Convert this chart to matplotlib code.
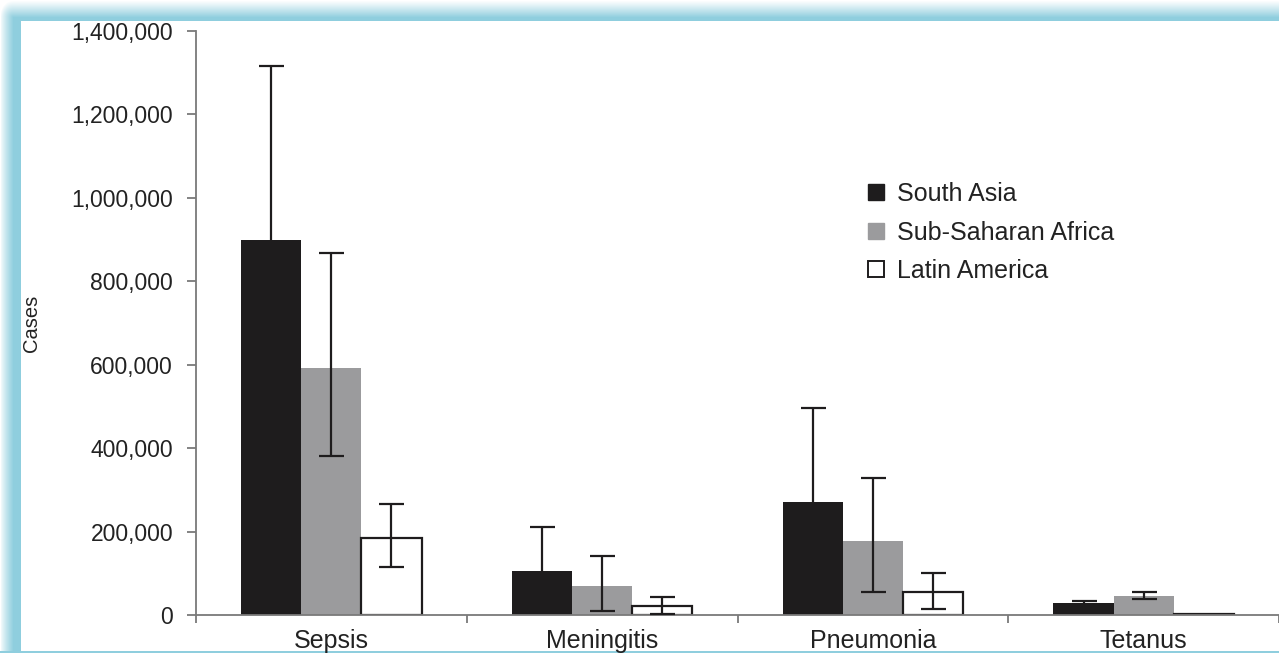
import numpy as np
import matplotlib.pyplot as plt
from matplotlib.patches import Patch
from matplotlib.ticker import FuncFormatter

plt.rcParams['font.family'] = ['Liberation Sans', 'DejaVu Sans']

diseases = ['Sepsis', 'Meningitis', 'Pneumonia', 'Tetanus']
regions = ['South Asia', 'Sub-Saharan Africa', 'Latin America']

# estimated cases and uncertainty range per region
south_asia = [900000, 105000, 271000, 29000]
south_asia_low = [620000, 50000, 150000, 24000]
south_asia_high = [1315000, 211000, 496000, 34000]

ss_africa = [592000, 70000, 178000, 45000]
ss_africa_low = [380000, 10000, 55000, 38000]
ss_africa_high = [867000, 141000, 329000, 55000]

latin_america = [185000, 21000, 55000, 2000]
latin_america_low = [116000, 3000, 15000, np.nan]
latin_america_high = [266000, 43000, 101000, np.nan]

W, H = 1279, 653
fig = plt.figure(figsize=(W / 100, H / 100), dpi=100, facecolor='white')

# light blue glowing frame on the left/top edges
frame = fig.add_axes([0, 0, 1, 1], zorder=-10)
yy, xx = np.mgrid[0:H, 0:W]
rx = np.clip(xx / 13.0, 0, 1) ** 0.8
ry = np.clip(yy / 17.0, 0, 1) ** 1.1
alpha = np.zeros((H, W))
left = (xx < 21) & (yy >= 21)
top = (yy < 21) & (xx >= 21)
corner = (xx < 21) & (yy < 21)
alpha[left] = rx[left]
alpha[top] = ry[top]
alpha[corner] = np.clip(1 - np.sqrt((1 - rx[corner]) ** 2 + (1 - ry[corner]) ** 2), 0, 1)
alpha[H - 2:H, :] = 1
rgba = np.zeros((H, W, 4))
rgba[..., 0] = 143 / 255
rgba[..., 1] = 206 / 255
rgba[..., 2] = 222 / 255
rgba[..., 3] = alpha
frame.imshow(rgba, aspect='auto', interpolation='nearest')
frame.set_axis_off()

ax = fig.add_axes([196 / W, 38 / H, (W - 196) / W, 584 / H])
ax.set_facecolor('none')

x = np.arange(len(diseases))
w = 0.222
dark = '#1e1c1d'
gray = '#9b9b9d'
ecol = dark

def err(vals, low, high):
    vals = np.array(vals, dtype=float)
    return [vals - np.array(low, dtype=float), np.array(high, dtype=float) - vals]

ax.bar(x - w, south_asia, w, color=dark, zorder=2)
ax.bar(x, ss_africa, w, color=gray, zorder=2)
ax.bar(x + w, latin_america, w, color='white', edgecolor=dark, linewidth=1.6, zorder=2)

for xs, vals, lo, hi in [(x - w, south_asia, south_asia_low, south_asia_high),
                         (x, ss_africa, ss_africa_low, ss_africa_high),
                         (x + w, latin_america, latin_america_low, latin_america_high)]:
    ax.errorbar(xs, vals, yerr=err(vals, lo, hi), fmt='none', ecolor=ecol,
                elinewidth=1.6, capsize=9, capthick=1.6, zorder=3)

ax.set_xlim(-0.5, 3.5)
ax.set_ylim(0, 1400000)
ax.set_yticks(np.arange(0, 1400001, 200000))
ax.yaxis.set_major_formatter(FuncFormatter(lambda v, p: f'{v:,.0f}'))

for s in ['top', 'right']:
    ax.spines[s].set_visible(False)
for s in ['left', 'bottom']:
    ax.spines[s].set_color('#7a7a7a')
    ax.spines[s].set_linewidth(1.3)

ax.tick_params(axis='y', direction='out', length=6.5, width=1.3, color='#7a7a7a',
               labelsize=16.5, labelcolor='#222222', pad=10)
ax.set_xticks(x)
ax.set_xticklabels(diseases)
ax.set_xticks(np.arange(-0.5, 3.6, 1.0), minor=True)
ax.tick_params(axis='x', which='major', length=0, labelsize=18, labelcolor='#222222', pad=10)
ax.tick_params(axis='x', which='minor', direction='out', length=6, width=1.3, color='#7a7a7a')

fig.text(32 / W, 1 - 323 / H, 'Cases', rotation=90, ha='center', va='center',
         fontsize=14.5, color='#222222')

handles = [Patch(facecolor=dark, edgecolor=dark),
           Patch(facecolor=gray, edgecolor=gray),
           Patch(facecolor='white', edgecolor=dark, linewidth=1.4)]
ax.legend(handles, regions, loc='upper left', bbox_to_anchor=(868 / W, 1 - 182 / H),
          bbox_transform=fig.transFigure, frameon=False, fontsize=18,
          handlelength=0.62, handleheight=0.62, handletextpad=0.55,
          labelspacing=0.58, borderpad=0, borderaxespad=0, labelcolor='#222222')

fig.savefig('out.png', dpi=100, facecolor='white')
